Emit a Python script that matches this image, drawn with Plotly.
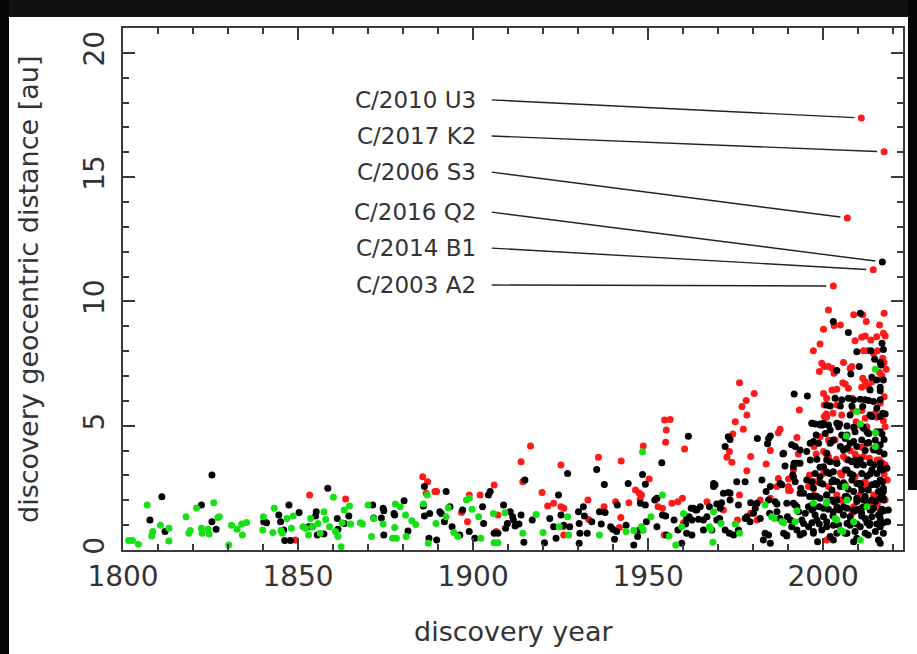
import plotly.graph_objects as go

# ---------------- data ----------------
# (discovery year, discovery geocentric distance [au])
GREEN = [
    (1801.6,0.38),(1802.7,0.38),(1804.4,0.23),(1806.9,1.81),(1808.2,0.56),(1808.5,0.74),(1810.7,1.0),
    (1813.1,0.87),(1813.1,0.36),(1818.0,1.34),(1818.8,0.67),(1819.2,0.78),(1821.0,1.69),(1822.4,0.87),
    (1822.6,0.67),(1824.3,0.83),(1824.6,0.64),(1825.9,1.9),(1827.1,1.31),(1827.5,1.34),(1830.2,0.2),
    (1831.0,1.0),(1832.6,0.83),(1833.9,1.05),(1834.1,0.6),(1835.3,1.11),(1840.1,1.34),(1839.9,0.8),
    (1843.2,1.68),(1842.8,0.7),(1845.1,0.78),(1845.5,0.67),(1846.8,1.27),(1848.1,0.87),(1848.6,1.37),
    (1851.4,0.94),(1852.2,0.87),(1853.0,0.6),(1853.6,1.27),(1854.1,0.94),(1855.7,1.07),(1856.3,0.67),
    (1857.4,1.54),(1857.9,1.23),(1859.0,0.94),(1860.1,2.12),(1860.7,0.74),(1861.4,0.54),(1862.3,0.13),
    (1862.6,1.1),(1863.2,1.61),(1864.7,1.77),(1865.0,1.05),(1867.8,1.1),(1868.4,1.05),(1870.0,1.81),
    (1871.0,0.54),(1871.6,1.27),(1874.3,1.05),(1877.0,0.47),(1878.1,0.47),(1877.6,0.91),(1877.8,1.85),
    (1879.2,1.74),(1880.7,1.41),(1880.9,0.54),(1882.5,1.18),(1883.6,1.03),(1885.8,1.85),(1886.9,2.21),
    (1887.2,0.27),(1889.4,1.07),(1892.3,1.34),(1892.9,1.7),(1894.5,0.7),(1895.6,0.54),(1898.1,2.01),
    (1898.9,2.08),(1899.7,1.64),(1901.6,1.34),(1902.2,0.47),(1905.8,1.47),(1906.0,0.29),(1907.1,0.29),
    (1909.1,1.5),(1914.2,0.67),(1918.0,1.43),(1920.0,0.7),(1924.6,0.94),(1927.0,1.34),(1927.3,0.6),
    (1936.1,0.6),(1943.7,0.74),(1945.9,0.78),(1948.1,0.94),(1948.4,3.95),(1948.6,0.8),(1950.8,1.34),
    (1954.1,2.21),(1956.0,0.56),(1957.9,0.2),(1960.1,1.47),(1959.6,0.94),(1968.7,1.54),(1967.5,0.94),
    (1967.9,0.83),(1968.5,0.31),(1970.8,1.07),(1974.9,1.05),(1976.1,0.67),(1983.4,1.81),(1985.3,1.34),
    (1986.0,1.27),(1988.2,1.14),(1988.7,1.1),(1992.5,1.58),(1992.0,1.14),(1997.2,1.88),(2001.0,1.94),
    (2003.4,1.27),(2003.9,1.21),(2004.9,0.8),(2005.6,0.74),(2006.3,2.55),(2006.8,2.01),(2008.7,1.14),
    (2009.6,5.57),(2010.6,5.07),(2010.6,0.4),(2014.9,7.27),(2014.9,4.72),(2014.9,4.16),(2006.6,4.59),
    (2000.9,1.88),(2012.5,1.74),
]

RED = [
    (1849.2,0.4),(1853.3,2.21),(1863.6,2.05),(1885.6,2.95),(1887.0,2.75),(1886.6,2.28),(1889.1,2.35),
    (1889.6,2.35),(1896.7,1.51),(1898.4,1.14),(1898.9,2.21),(1902.0,2.21),(1906.0,2.61),(1907.1,1.41),
    (1906.6,0.74),(1913.7,3.55),(1914.2,2.75),(1914.5,2.79),(1916.4,4.18),(1919.7,2.31),(1921.3,1.77),
    (1923.0,1.88),(1925.1,3.42),(1925.1,1.74),(1925.9,1.68),(1925.7,0.94),(1925.9,0.6),(1932.8,2.01),
    (1933.0,1.23),(1935.8,3.73),(1937.4,1.74),(1940.7,1.94),(1941.8,0.91),(1942.2,1.31),(1942.3,3.58),
    (1944.5,1.9),(1946.4,2.41),(1947.5,2.28),(1947.7,2.04),(1948.1,2.21),(1948.6,4.18),(1950.3,2.86),
    (1952.8,1.74),(1954.1,1.68),(1954.7,5.23),(1956.3,5.25),(1955.2,4.83),(1955.0,4.33),(1954.6,0.6),
    (1956.8,1.88),(1958.5,1.94),(1959.8,2.08),(1960.4,4.06),(1960.1,1.1),
    (1976.1,6.73),(1976.8,5.77),(1978.0,6.01),(1978.2,5.43),(1980.3,6.30),(1974.9,5.16),(1974.2,4.67),
    (1977.2,4.86),(1973.2,3.96),(1972.5,3.73),(1973.9,3.53),(1979.3,3.76),(1978.2,3.19),(1983.7,3.46),
    (1984.9,4.0),(1987.7,4.86),(1987.2,4.72),(1991.5,3.22),(1990.1,2.86),(1987.2,2.88),(1986.8,2.55),
    (1990.1,2.55),(1992.5,4.53),(1992.9,3.86),(1993.2,5.63),(1997.2,8.02),(1999.1,8.29),(2000.1,8.88),
    (2001.5,9.66),(2003.1,9.03),(2004.9,9.05),(2008.7,9.46),(2011.3,9.46),(2017.4,9.52),(2012.3,9.19),
    (2016.1,9.05),(2017.2,8.72),(2017.7,8.61),(2009.1,8.42),(2011.0,8.56),(2012.0,8.61),(2013.6,8.45),
    (2015.3,8.58),(2011.5,8.02),(2012.7,8.02),(1998.9,7.18),(1999.6,7.51),(2000.3,7.38),(2001.5,7.38),
    (2002.5,7.31),(2003.1,7.11),(2005.8,7.54),(2007.7,7.31),(2008.2,7.38),(2005.6,6.73),(2006.3,6.68),
    (2003.9,6.47),(2002.5,6.44),(2011.3,6.91),(2012.0,6.77),(2012.9,6.57),(2013.9,6.77),(2011.0,6.55),
    (2007.2,6.51),(2016.1,7.14),(2016.8,7.0),(2018.0,7.27),(2017.0,7.71),(2017.4,7.54),(2014.4,7.91),
    (2015.5,8.02),(2008.2,6.1),(2000.1,6.3),(2001.0,6.1),(2000.3,5.83),(2000.9,5.47),(2000.3,5.37),
    (2001.0,5.34),(2002.8,5.5),(2003.9,5.83),(2005.3,5.43),(2008.5,5.66),(2009.4,5.16),(2010.1,5.03),
    (2011.0,5.61),(2012.0,5.3),(2012.5,4.96),(2014.9,5.5),(2015.3,5.34),(2017.2,5.2),(2017.7,4.96),
    (2016.3,5.9),(2017.4,6.17),(1999.1,4.56),(2001.5,4.43),(2002.5,4.36),(2003.4,4.43),(1997.4,4.16),
    (1998.0,3.86),(2000.1,3.96),(2000.9,3.86),(2001.5,3.76),(2003.7,3.65),(2005.8,3.76),(2006.6,3.65),
    (2007.7,4.0),(2009.1,3.86),(2011.0,4.13),(2011.5,3.76),(2013.2,3.69),(2014.2,4.09),(2016.1,3.62),
    (2016.8,3.51),(2017.7,3.42),(2017.4,3.06),(1996.1,3.02),(1997.2,2.75),(1998.2,2.75),(2000.1,3.08),
    (2005.3,3.02),(2009.1,2.95),(2012.0,2.75),(2012.5,2.55),(2010.6,2.21),(2008.7,1.74),(2014.4,2.21),
    (2015.5,1.85),(2016.3,1.61),(2017.7,2.01),(2003.9,2.21),(2004.9,2.01),(2001.5,2.55),(1995.8,2.55),
    (1997.4,2.21),(1990.1,2.39),(1990.6,2.39),(1984.9,2.08),(1982.0,2.01),(1976.1,2.21),(1979.3,1.48),
    (1975.5,1.21),(1981.1,1.21),(2001.0,0.4),(1971.5,1.61),(1966.8,1.94),
    (2008.3,1.49),(2013.4,1.81),(2005.4,2.0),(2010.6,2.09),(2016.9,2.41),(2016.3,2.74),(2018.3,2.82),
    (2006.3,2.62),(2009.7,3.74),(2015.4,3.62),(2004.9,3.1),
]

BLACK = [
    (1807.7,1.21),(1811.1,2.14),(1812.0,0.74),(1822.4,1.81),(1825.4,3.02),(1825.4,1.14),(1826.6,0.83),
    (1840.2,1.14),(1841.0,1.1),(1844.5,1.41),(1845.0,1.14),(1845.9,0.8),(1846.2,0.38),(1847.8,0.38),
    (1847.4,1.81),(1850.3,1.51),(1853.0,0.94),(1854.1,0.94),(1855.2,1.54),(1855.0,1.37),(1855.5,0.6),
    (1857.4,0.64),(1858.5,2.48),(1861.2,1.27),(1861.4,0.83),(1863.2,1.07),(1864.5,1.37),(1871.3,1.81),
    (1871.6,1.29),(1873.8,1.29),(1874.3,1.68),(1874.5,1.58),(1874.5,0.6),(1877.4,1.47),(1877.6,1.41),
    (1880.3,1.98),(1881.4,0.76),(1885.8,1.77),(1886.1,1.37),(1886.1,2.55),(1887.4,0.47),(1887.6,1.47),
    (1889.6,0.4),(1890.5,1.54),(1890.9,1.47),(1891.8,1.14),(1892.3,2.35),(1893.4,1.74),(1894.0,0.94),
    (1896.2,0.6),(1897.0,1.61),(1898.9,0.74),(1900.5,0.47),(1902.7,1.74),(1903.0,1.07),(1904.4,2.21),
    (1904.9,2.35),(1906.0,0.67),(1907.1,0.67),(1908.7,1.81),(1909.3,0.87),(1909.8,1.07),(1910.6,1.54),
    (1911.3,1.34),(1911.5,1.21),(1912.0,0.97),(1913.1,1.05),(1913.7,1.41),(1914.5,0.31),(1914.8,2.82),
    (1916.9,1.21),(1920.4,0.29),(1921.9,1.27),(1923.0,0.94),(1923.7,0.47),(1924.4,2.21),(1925.1,1.41),
    (1925.9,1.0),(1927.0,3.08),(1927.6,0.94),(1930.1,1.54),(1930.3,0.27),(1930.3,1.07),(1930.5,0.67),
    (1931.5,1.74),(1931.8,1.37),(1932.6,0.67),(1933.9,1.14),(1935.3,3.24),(1936.1,1.54),(1936.6,1.05),
    (1937.5,2.64),(1937.7,1.51),(1939.3,0.94),(1939.9,0.83),(1940.4,0.43),(1941.0,0.74),(1941.2,1.81),
    (1943.7,1.0),(1944.3,2.68),(1945.9,0.2),(1947.0,0.54),(1947.5,0.8),(1948.4,0.8),(1947.8,1.88),
    (1948.4,3.04),(1949.2,2.65),(1949.2,1.81),(1949.5,1.14),(1951.9,2.01),(1952.5,2.08),(1952.5,0.94),
    (1953.9,3.51),(1954.1,1.41),(1955.0,1.37),(1955.2,0.6),(1957.4,1.21),(1958.5,0.8),(1959.6,0.27),
    (1961.5,4.58),(1961.7,1.34),(1960.7,1.05),(1962.3,1.68),(1963.6,1.61),
    (1968.7,2.68),(1969.1,2.62),(1968.7,2.55),(1972.0,4.16),(1972.9,4.56),(1973.4,4.45),(1975.3,2.75),
    (1977.7,2.75),(1981.2,4.49),(1984.4,4.49),(1984.9,4.59),(1984.1,4.27),(1988.5,3.86),(1991.5,3.35),
    (1991.7,3.49),(1989.1,3.38),(1991.7,6.28),(1995.5,6.2),(2002.9,9.19),(2007.2,8.75),(2010.6,9.52),
    (2009.6,7.98),(2013.6,8.02),(2016.8,8.32),(2017.2,8.07),(2016.3,7.54),(2016.5,7.44),(2014.7,7.67),
    (2003.9,7.22),(2010.3,7.38),(2007.9,7.08),(2013.9,6.95),(2015.3,6.84),(2017.2,6.84),(2016.3,6.55),
    (2013.4,6.44),(2016.3,6.41),(2003.4,6.1),(2005.3,6.04),(2007.2,6.1),(2008.7,6.04),(2010.6,6.06),
    (2012.0,6.04),(2013.0,6.01),(2014.4,5.97),(2016.3,6.04),(2001.0,5.83),(2002.0,5.79),(2004.9,5.79),
    (2008.2,5.79),(2011.3,5.77),(2015.3,5.7),(2007.7,5.43),(2013.4,5.43),(2013.9,5.37),(2017.0,5.5),
    (1996.8,5.1),(1997.7,5.07),(1999.1,5.07),(1999.9,5.03),(2001.5,5.03),(2003.9,5.1),(2004.7,5.07),
    (2006.8,4.99),(2008.7,4.94),(2009.1,4.76),(2011.3,4.96),(2012.5,4.76),(2013.0,4.69),(2016.3,4.76),
    (2016.8,4.67),(2014.9,4.43),(2017.4,4.45),(1998.0,4.63),(2000.6,4.69),(2005.3,4.63),(2006.3,4.49),
    (2008.7,4.36),(2011.0,4.43),(2013.0,4.32),(2002.0,4.29),(2004.9,4.16),(2006.8,4.09),(2012.0,4.0),
    (2015.3,4.02),(2016.1,3.96),(2017.4,3.86),(1998.2,3.65),(2001.0,3.62),(2002.0,3.55),(2003.9,3.49),
    (2007.2,3.62),(2008.2,3.55),(2009.6,3.42),(2010.6,3.62),(2013.4,3.51),(2014.4,3.42),(2016.3,3.29),
    (2016.8,3.22),(1999.1,3.33),(1997.7,3.08),(2001.0,3.15),(2001.8,3.08),(2002.9,3.15),(2006.3,3.22),
    (2007.7,3.08),(2008.5,3.02),(2011.0,3.08),(2012.5,2.98),(2013.4,3.06),(2015.3,3.08),(2016.3,2.82),
    (2017.0,2.75),(1996.8,2.75),(1999.1,2.71),(1999.9,2.66),(2002.9,2.82),(2003.9,2.75),(2005.8,2.71),
    (2009.6,2.68),(2010.6,2.62),(2013.9,2.62),(2014.9,2.68),(2017.2,2.48),(1997.2,2.48),(2002.5,2.41),
    (2007.2,2.44),(2008.7,2.35),(2011.0,2.41),(2015.8,2.35),(2016.8,2.28),(1996.1,2.15),(1998.2,2.15),
    (1999.1,2.08),(2001.0,2.21),(2002.5,2.01),(2003.1,1.94),(2006.3,2.15),(2007.2,2.08),(2009.6,2.08),
    (2011.5,2.01),(2012.5,1.94),(2013.9,2.01),(2016.1,2.08),(2017.2,2.01),(1996.8,1.81),(1997.2,1.68),
    (1998.9,1.74),(2001.5,1.64),(2003.9,1.74),(2004.7,1.61),(2006.8,1.68),(2009.1,1.58),(2010.1,1.64),
    (2011.3,1.72),(2013.4,1.61),(2014.4,1.68),(2016.8,1.64),(2017.4,1.58),(1997.7,1.41),(2000.1,1.34),
    (2002.8,1.37),(2005.8,1.41),(2007.7,1.34),(2011.0,1.37),(2012.0,1.27),(2013.9,1.34),(2015.8,1.41),
    (2016.3,1.27),(1996.8,1.1),(1998.9,1.05),(2001.0,1.14),(2002.9,1.0),(2006.8,1.07),(2007.7,1.0),
    (2009.6,1.05),(2012.5,1.1),(2013.2,1.0),(2015.3,1.05),(2017.2,1.1),(1997.2,0.74),(1999.6,0.8),
    (2003.9,0.67),(2006.8,0.67),(2009.1,0.74),(2012.0,0.67),(2014.9,0.74),(2017.2,0.67),(1998.4,0.33),
    (2002.9,0.4),(2008.7,0.33),(2016.3,0.27),
    (1972.9,2.31),(1973.4,2.28),(1973.4,2.01),(1971.0,1.9),(1969.6,1.85),(1962.9,1.68),(1963.9,1.61),
    (1964.9,1.74),(1961.0,1.27),(1962.5,1.21),(1964.4,1.24),(1965.8,1.21),(1965.8,0.8),(1961.0,0.67),
    (1962.5,0.6),(1968.2,0.8),(1972.0,0.8),(1973.2,0.67),(1974.4,0.6),(1975.8,0.8),(1977.7,1.27),
    (1978.2,1.34),(1979.1,1.14),(1980.1,1.48),(1980.6,1.68),(1981.1,1.88),(1982.0,1.27),(1983.4,0.67),
    (1984.4,0.6),(1982.9,0.4),(1984.9,0.27),(1984.7,1.48),(1986.3,1.94),(1986.8,1.85),(1986.8,1.54),
    (1987.7,1.27),(1988.7,0.67),(1989.6,0.56),(1989.8,1.34),(1991.0,0.94),(1991.5,1.88),(1992.0,1.81),
    (1993.0,1.54),(1993.9,1.21),(1994.9,1.48),(1995.8,0.94),(1994.4,0.67),(1992.5,0.8),(1984.4,2.01),
    (1983.7,2.35),(1984.9,2.55),(1982.5,2.82),(1987.7,2.68),(1988.2,2.62),(1991.3,3.02),(1992.0,2.75),
    (1993.6,2.48),(1994.4,2.28),(1979.3,1.9),(1975.8,1.81),(1969.6,1.21),(1970.4,1.27),(1970.6,1.68),
    (1966.8,1.34),(1971.5,2.28),(1967.5,1.74),(1995.8,1.74),(1995.3,3.96),(1996.3,4.29),(1993.4,3.49),
    (1996.8,5.10),(1999.1,5.03),(2000.1,5.10),(2002.0,4.83),(2004.4,4.96),(2006.8,4.63),(2011.5,4.90),
    (2012.9,4.70),(2015.3,4.76),(2016.3,5.37),(2017.7,5.47),(1991.0,4.23),(1992.0,4.16),(1993.4,4.02),
    (1997.2,4.36),(1998.7,4.29),(2001.0,3.89),(2002.9,4.43),(2005.8,4.02),(2007.7,4.29),(2009.6,4.16),
    (2012.5,4.29),(2014.4,4.02),(2016.3,4.23),(1988.7,3.89),(1992.5,3.49),(1996.3,3.62),(2000.1,3.35),
    (2003.9,3.49),(2006.8,3.22),(2009.1,3.62),(2011.5,3.42),(2013.9,3.22),(2016.3,3.49),(2018.2,3.29),
    (1991.5,2.95),(1995.3,2.82),(1999.1,2.95),(2002.5,2.75),(2004.9,2.55),(2008.2,2.82),(2010.6,2.68),
    (2012.9,2.41),(2015.3,2.62),(2017.2,2.35),(1993.4,2.28),(1997.2,2.15),(2001.0,2.21),(2003.9,2.01),
    (2006.8,2.15),(2009.6,1.95),(2012.0,2.15),(2014.9,1.95),(2017.2,2.08),(1989.6,1.88),(1992.5,1.74),
    (1996.8,1.61),(2000.1,1.68),(2002.9,1.54),(2005.8,1.74),(2008.7,1.61),(2011.0,1.48),(2013.9,1.61),
    (2016.3,1.48),(2018.6,1.61),(1990.6,1.21),(1994.4,1.07),(1998.2,1.21),(2001.0,0.94),(2004.4,1.01),
    (2007.7,1.14),(2010.6,0.94),(2013.4,1.07),(2016.3,0.94),(2018.4,1.14),(1993.4,0.60),(1997.2,0.67),
    (2002.0,0.54),(2006.3,0.67),(2009.6,0.47),(2012.9,0.60),(2015.8,0.40),(1989.6,0.60),
]

# labelled distant comets
NAMES = ["C/2010 U3", "C/2017 K2", "C/2006 S3", "C/2016 Q2", "C/2014 B1", "C/2003 A2"]
NAME_YEAR = [2010.9, 2017.4, 2006.9, 2016.9, 2014.3, 2002.9]
NAME_DIST = [17.38, 16.02, 13.36, 11.59, 11.27, 10.62]
NAME_COLOR = ["red", "red", "red", "black", "red", "red"]

X_TICKS = [1800, 1850, 1900, 1950, 2000]
Y_TICKS = [0, 5, 10, 15, 20]

# ---------------- layout constants ----------------
LABEL_Y = [18.11, 16.66, 15.21, 13.60, 12.15, 10.66]   # label rows (data units)
LABEL_TEXT_X = 1901.4                                  # right edge of label text
LABEL_LINE_X = 1904.9                                  # start of leader line

COL = {"black": "#000000", "red": "#ff1a1a", "green": "#14e014"}
FONT = "DejaVu Sans"
TXT = "#333333"
MS = 7

fig = go.Figure()

def add_pts(pairs, color):
    xs = [p[0] for p in pairs]
    ys = [p[1] for p in pairs]
    fig.add_trace(go.Scatter(x=xs, y=ys, mode="markers",
                             marker=dict(size=MS, color=COL[color], line=dict(width=0)),
                             showlegend=False, hoverinfo="x+y"))

add_pts(RED, "red")
add_pts(BLACK, "black")
add_pts(GREEN, "green")
fig.add_trace(go.Scatter(x=NAME_YEAR, y=NAME_DIST, mode="markers", text=NAMES,
                         marker=dict(size=MS, color=[COL[c] for c in NAME_COLOR]),
                         showlegend=False))

annotations = []
for name, xv, yv, ly in zip(NAMES, NAME_YEAR, NAME_DIST, LABEL_Y):
    annotations.append(dict(x=xv, y=yv, xref="x", yref="y", ax=LABEL_LINE_X, ay=ly,
                            axref="x", ayref="y", text="", showarrow=True, arrowhead=0,
                            arrowwidth=1.4, arrowcolor="#222222", standoff=7))
    annotations.append(dict(x=LABEL_TEXT_X, y=ly, xref="x", yref="y", text=name,
                            showarrow=False, xanchor="right", yanchor="middle",
                            font=dict(family=FONT, size=23, color=TXT)))

annotations.append(dict(x=0.5, y=-0.157, xref="paper", yref="paper", text="discovery year",
                        showarrow=False, xanchor="center", yanchor="middle",
                        font=dict(family=FONT, size=27, color=TXT)))
annotations.append(dict(x=-0.1218, y=0.5, xref="paper", yref="paper",
                        text="discovery geocentric distance [au]", textangle=-90,
                        showarrow=False, xanchor="center", yanchor="middle",
                        font=dict(family=FONT, size=27, color=TXT)))

# dark screenshot border (paper coords derived from pixel geometry)
L, R, T, B = 123, 903, 28, 550
def px(xp): return (xp - L) / (R - L)
def py(yp): return (B - yp) / (B - T)
shapes = [
    dict(type="rect", xref="paper", yref="paper", x0=px(0), x1=px(917), y0=py(17), y1=py(0),
         fillcolor="#111111", line=dict(width=0), layer="above"),
    dict(type="rect", xref="paper", yref="paper", x0=px(0), x1=px(9), y0=py(654), y1=py(0),
         fillcolor="#050505", line=dict(width=0), layer="above"),
    dict(type="rect", xref="paper", yref="paper", x0=px(908), x1=px(917), y0=py(490), y1=py(0),
         fillcolor="#050505", line=dict(width=0), layer="above"),
]

axis_common = dict(showgrid=False, zeroline=False, showline=True, linecolor="#3a3a3a",
                   linewidth=2, mirror="allticks", ticks="inside", ticklen=12, tickwidth=1.6,
                   tickcolor="#3a3a3a",
                   tickfont=dict(family=FONT, size=28, color=TXT))

fig.update_xaxes(range=[1800, 2022.8], tickvals=X_TICKS, ticktext=[str(v) for v in X_TICKS],
                 minor=dict(ticks="inside", ticklen=6, dtick=10, tick0=1800, tickwidth=1.6,
                            tickcolor="#3a3a3a", showgrid=False),
                 **axis_common)
fig.update_yaxes(range=[0, 21], tickvals=Y_TICKS, ticktext=[str(v) for v in Y_TICKS],
                 tickangle=-90, ticklabelstandoff=6,
                 minor=dict(ticks="inside", ticklen=6, dtick=1, tick0=0, tickwidth=1.6,
                            tickcolor="#3a3a3a", showgrid=False),
                 **axis_common)

fig.update_layout(width=917, height=654, margin=dict(l=L, r=917 - R, t=T, b=654 - B),
                  plot_bgcolor="white", paper_bgcolor="white",
                  annotations=annotations, shapes=shapes, showlegend=False,
                  font=dict(family=FONT, color=TXT))

fig.write_html("out.html", config={"displayModeBar": False},
               post_script="document.body.style.margin='0px';")
